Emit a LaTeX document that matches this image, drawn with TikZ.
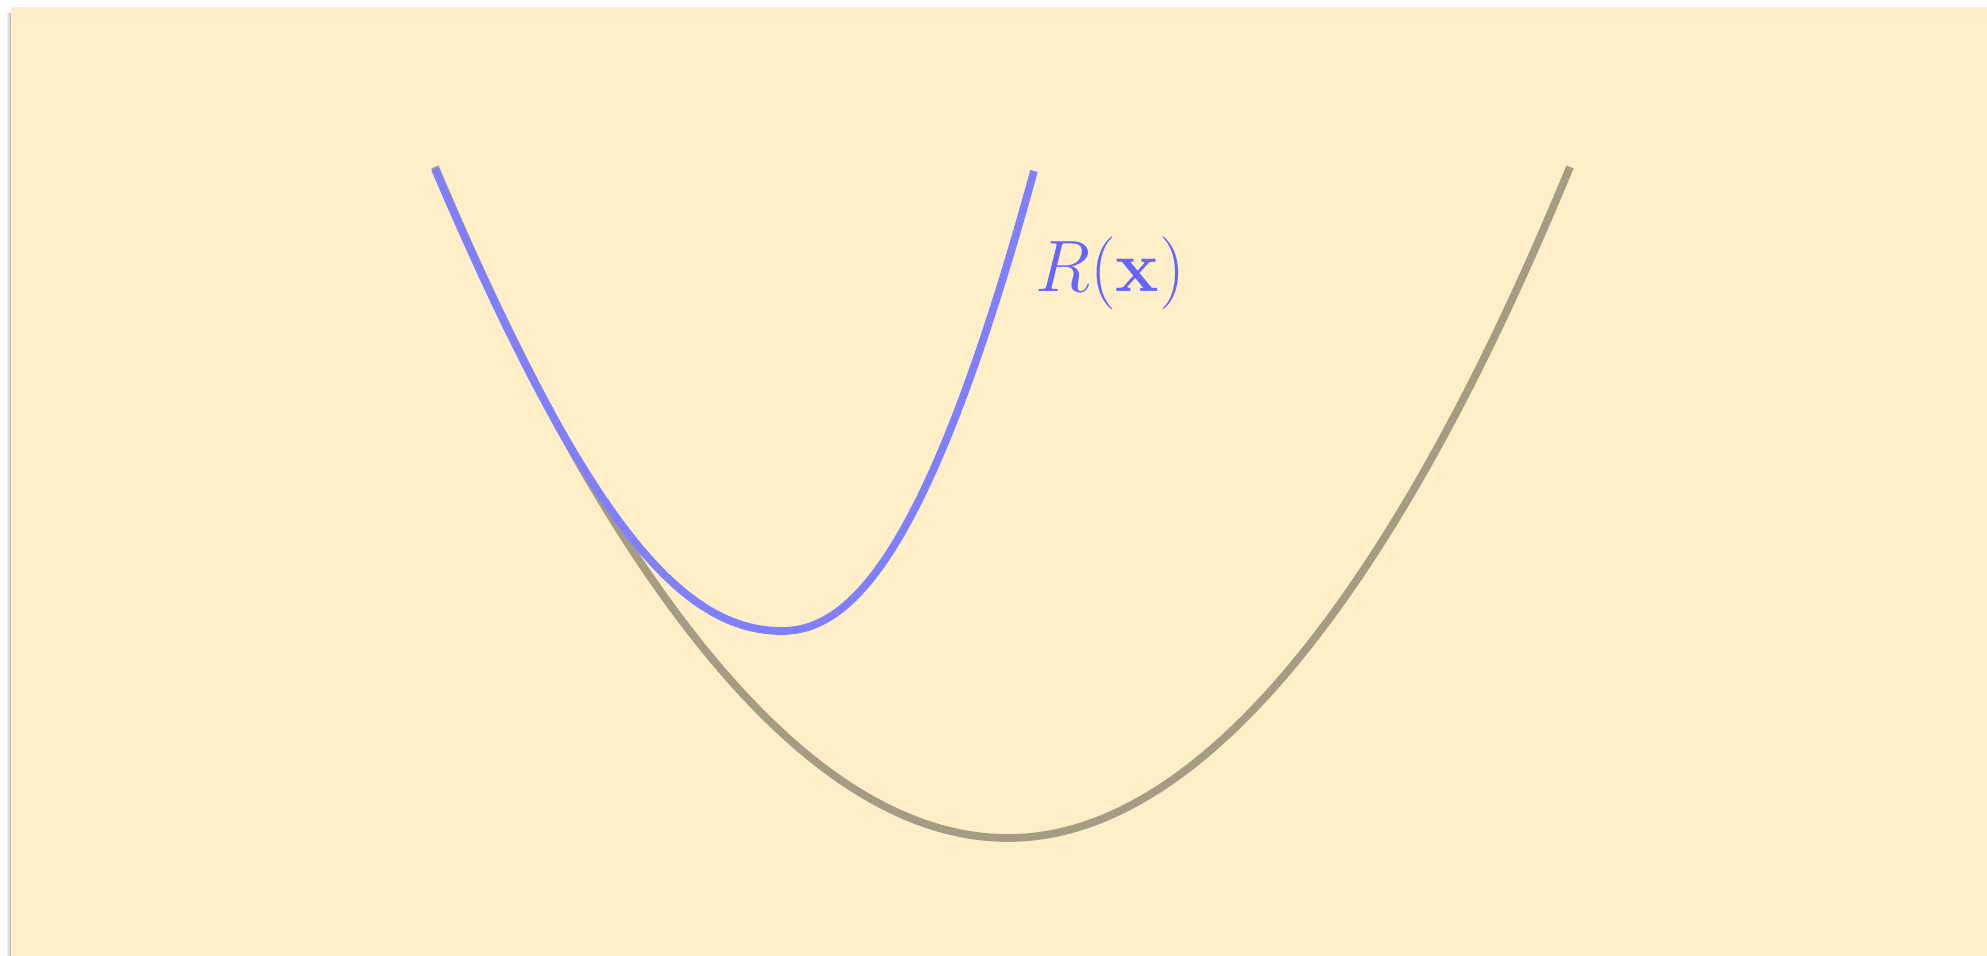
\documentclass[tikz,border=0pt]{standalone}
\usepackage{amsmath}
\definecolor{paper}{RGB}{255,239,201}
\definecolor{tan}{RGB}{166,155,131}
\definecolor{modelblue}{RGB}{128,128,255}
\definecolor{labelblue}{RGB}{102,102,255}
\begin{document}
\begin{tikzpicture}[line width=2.2pt]
\useasboundingbox (0,0) rectangle (19.87,9.56);
\fill[white] (0,0) rectangle (19.87,9.56);
\shade[left color=white,right color=black!30] (0.06,0) rectangle (0.11,9.42);
\fill[paper] (0.11,0) rectangle (19.87,9.49);
\draw[tan] (4.35,7.89) parabola bend (10.08,1.18) (15.70,7.89);
\draw[modelblue] (4.35,7.87) .. controls (5.90,4.24) and (6.85,3.25) .. (7.82,3.25)
  .. controls (8.52,3.25) and (9.30,4.05) .. (10.34,7.85);
\node[text=labelblue,font=\fontsize{21}{25}\selectfont] (lbl) at (11.10,6.83) {$R(\mathbf{x})$};
\end{tikzpicture}
\end{document}
